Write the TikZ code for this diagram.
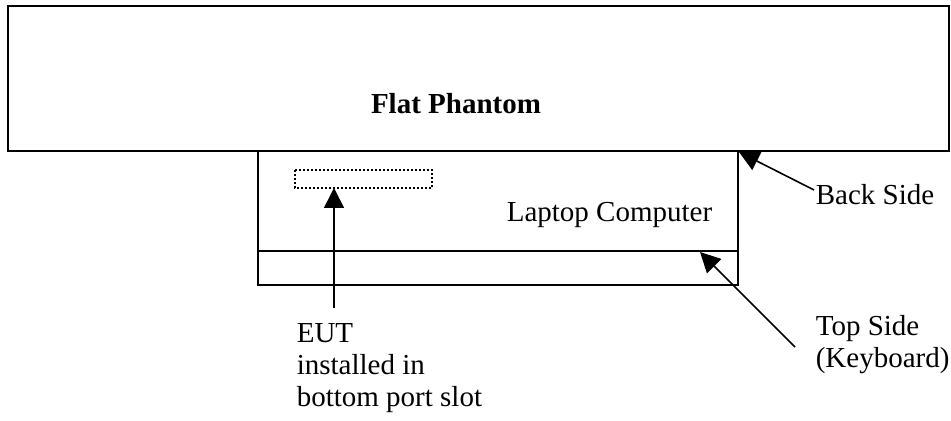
\documentclass[tikz,border=0pt]{standalone}
\usepackage{fontspec}
\setmainfont{Liberation Serif}
\usetikzlibrary{arrows.meta}

\begin{document}
\begin{tikzpicture}[x=0.5pt, y=-0.5pt, line width=0.8pt,
	every node/.style={font=\fontsize{14.5}{16}\selectfont, inner sep=0pt},
	pointer/.style={-{Triangle[length=10pt,width=10pt]}},
	txt/.style={align=left, anchor=base west}]
			%%%%% START %%%%%
			\useasboundingbox (0,0) rectangle (951,421);
			
			% phantom
			\draw (8,6) rectangle (949,151);
			\node[font=\fontsize{14.5}{16}\selectfont\bfseries] (phantom) at (456,104) {Flat Phantom};
			
			% laptop
			\draw (258,151) rectangle (738,285);
			\draw (258,251) -- (738,251);
			\node[anchor=base east] (laptop) at (713,222) {Laptop Computer};
			\coordinate (backcorner) at (739,152);
			\coordinate (keyedge) at (700,252);
			
			% EUT slot
			\draw[line width=1.2pt, dash pattern=on 1pt off 1pt] (295,170) rectangle (432,188);
			\coordinate (slot) at (334,188);
			
			% labels (base = last line)
			\node[txt] (eut) at (296,407) {EUT\\installed in\\bottom port slot};
			\node[txt] (back) at (815,205) {Back Side};
			\node[txt] (top) at (815,368) {Top Side\\(Keyboard)};
			
			\coordinate (euttail) at (334,308);
			\coordinate (backtail) at (814,190);
			\coordinate (toptail) at (795,347);
			
			\draw[pointer] (euttail) -- (slot);
			\draw[pointer] (backtail) -- (backcorner);
			\draw[pointer] (toptail) -- (keyedge);
			%%%%% END %%%%%
\end{tikzpicture}
\end{document}
